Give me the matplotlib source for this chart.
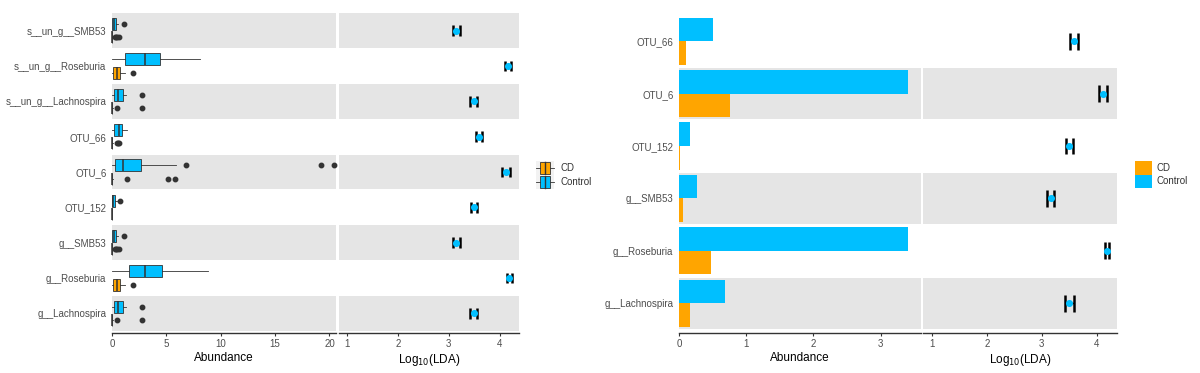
import matplotlib
matplotlib.use('Agg')
import matplotlib.pyplot as plt
from matplotlib.legend_handler import HandlerBase
from matplotlib.patches import Rectangle, Patch
from matplotlib.lines import Line2D
import numpy as np

plt.rcParams['font.family'] = ['Liberation Sans', 'DejaVu Sans']

# -----------------------
# DATA (top to bottom)
# -----------------------
left_taxa = ['s__un_g__SMB53', 's__un_g__Roseburia', 's__un_g__Lachnospira', 'OTU_66',
             'OTU_6', 'OTU_152', 'g__SMB53', 'g__Roseburia', 'g__Lachnospira']

# Control boxes
ctrl_q1 = [0.03, 1.20, 0.20, 0.15, 0.28, 0.03, 0.03, 1.54, 0.20]
ctrl_med = [0.20, 3.05, 0.58, 0.60, 1.04, 0.12, 0.20, 3.07, 0.58]
ctrl_q3 = [0.38, 4.42, 1.05, 0.95, 2.66, 0.28, 0.38, 4.58, 1.05]
ctrl_lo = [0.0, 0.0, 0.0, 0.0, 0.0, 0.0, 0.0, 0.0, 0.0]
ctrl_hi = [0.55, 8.12, 1.30, 1.40, 5.85, 0.42, 0.55, 8.80, 1.30]
ctrl_out = [[1.13], [], [2.73], [], [6.85, 19.2, 20.4], [0.72], [1.13], [], [2.73]]

# CD boxes
cd_q1 = [0.0, 0.05, 0.0, 0.0, 0.0, 0.0, 0.0, 0.05, 0.0]
cd_med = [0.0, 0.45, 0.0, 0.0, 0.0, 0.0, 0.0, 0.45, 0.0]
cd_q3 = [0.02, 0.75, 0.03, 0.03, 0.03, 0.02, 0.02, 0.75, 0.03]
cd_lo = [0.0, 0.0, 0.0, 0.0, 0.0, 0.0, 0.0, 0.0, 0.0]
cd_hi = [0.05, 1.15, 0.05, 0.05, 0.05, 0.03, 0.05, 1.15, 0.05]
cd_out = [[0.3, 0.4, 0.5, 0.6], [1.96], [0.5, 2.78], [0.42, 0.52, 0.62],
          [1.35, 5.19, 5.78], [], [0.3, 0.4, 0.5, 0.6], [1.96], [0.5, 2.78]]

left_lda = [3.15, 4.16, 3.49, 3.59, 4.13, 3.49, 3.15, 4.19, 3.49]
left_err = [0.06, 0.055, 0.065, 0.06, 0.075, 0.06, 0.06, 0.045, 0.07]

right_taxa = ['OTU_66', 'OTU_6', 'OTU_152', 'g__SMB53', 'g__Roseburia', 'g__Lachnospira']
right_ctrl = [0.51, 3.40, 0.16, 0.27, 3.40, 0.68]
right_cd = [0.10, 0.76, 0.01, 0.055, 0.47, 0.16]
right_lda = [3.585, 4.12, 3.50, 3.16, 4.19, 3.50]
right_err = [0.07, 0.076, 0.067, 0.064, 0.043, 0.08]

groups = ['CD', 'Control']

# -----------------------
# STYLE
# -----------------------
cd_col = '#FFA500'
ctrl_col = '#00BFFF'
band_gray = '#E5E5E5'
edge = '#333333'
txt_col = '#4D4D4D'

W, H = 1200, 373
fig = plt.figure(figsize=(12, 3.73), dpi=100)


def px_axes(x0, x1, y0, y1):
    # pixel box (top origin) -> figure fraction
    return fig.add_axes([x0 / W, 1 - y1 / H, (x1 - x0) / W, (y1 - y0) / H])


def style(ax, nrows, xlim, xticks, xlabel, labels=None, outward=1.5):
    ax.set_xlim(*xlim)
    ax.set_ylim(-0.5, nrows - 0.5)
    ax.set_facecolor('none')
    for i in range(0, nrows, 2):
        ax.axhspan(i - 0.49, i + 0.49, color=band_gray, lw=0, zorder=0)
    for s in ['top', 'right', 'left']:
        ax.spines[s].set_visible(False)
    ax.spines['bottom'].set_position(('outward', outward))
    ax.spines['bottom'].set_color(edge)
    ax.spines['bottom'].set_linewidth(1.0)
    ax.set_xticks(xticks)
    ax.tick_params(axis='x', length=2.5, width=0.8, color=edge,
                   labelsize=7, labelcolor=txt_col, pad=1.5)
    if labels is not None:
        ax.set_yticks(np.arange(nrows)[::-1])
        ax.set_yticklabels(labels)
        ax.tick_params(axis='y', length=0, pad=4, labelsize=7, labelcolor=txt_col)
    else:
        ax.set_yticks([])
    ax.set_xlabel(xlabel, fontsize=8.5, labelpad=2.5, color='black')


def box_stats(q1, med, q3, lo, hi, out):
    return [dict(q1=a, med=b, q3=c, whislo=d, whishi=e, fliers=f)
            for a, b, c, d, e, f in zip(q1, med, q3, lo, hi, out)]


def draw_lda(ax, ypos, lda, err, half_h):
    lda = np.array(lda)
    err = np.array(err)
    ax.hlines(ypos, lda - err, lda + err, color='black', lw=1.0, zorder=2)
    ax.vlines(lda - err, ypos - half_h, ypos + half_h, color='black', lw=1.8, zorder=2)
    ax.vlines(lda + err, ypos - half_h, ypos + half_h, color='black', lw=1.8, zorder=2)
    ax.scatter(lda, ypos, s=26, color=ctrl_col, lw=0, zorder=3)


class BoxKey(HandlerBase):
    # small horizontal boxplot glyph on a light grey key
    def create_artists(self, legend, orig, xd, yd, w, h, fontsize, trans):
        fc = orig.get_facecolor()
        x0, y0 = -xd, -yd
        bg = Rectangle((x0, y0), w, h, fc='#F2F2F2', ec='none', transform=trans)
        box = Rectangle((x0 + 0.22 * w, y0 + 0.1 * h), 0.56 * w, 0.8 * h,
                        fc=fc, ec=edge, lw=0.6, transform=trans)
        wl = Line2D([x0, x0 + 0.22 * w], [y0 + h / 2] * 2, color=edge, lw=0.6, transform=trans)
        wr = Line2D([x0 + 0.78 * w, x0 + w], [y0 + h / 2] * 2, color=edge, lw=0.6, transform=trans)
        md = Line2D([x0 + w / 2] * 2, [y0 + 0.1 * h, y0 + 0.9 * h], color=edge, lw=1.0, transform=trans)
        return [bg, box, wl, wr, md]


# -----------------------
# LEFT: boxplots + LDA
# -----------------------
nl = len(left_taxa)
ypos_l = np.arange(nl)[::-1].astype(float)

ax1 = px_axes(112, 336, 13, 331)
style(ax1, nl, (0, 20.6), [0, 5, 10, 15, 20], 'Abundance', left_taxa)
common = dict(orientation='horizontal', patch_artist=True, showcaps=False, widths=0.34,
              manage_ticks=False,
              medianprops=dict(color=edge, lw=1.1),
              whiskerprops=dict(color=edge, lw=0.6),
              flierprops=dict(marker='o', mfc=edge, mec=edge, ms=3.2))
ax1.bxp(box_stats(ctrl_q1, ctrl_med, ctrl_q3, ctrl_lo, ctrl_hi, ctrl_out),
        positions=ypos_l + 0.1875,
        boxprops=dict(facecolor=ctrl_col, edgecolor=edge, lw=0.6), **common)
ax1.bxp(box_stats(cd_q1, cd_med, cd_q3, cd_lo, cd_hi, cd_out),
        positions=ypos_l - 0.1875,
        boxprops=dict(facecolor=cd_col, edgecolor=edge, lw=0.6), **common)
for c in ax1.collections + ax1.lines + ax1.patches:
    c.set_clip_on(False)

ax2 = px_axes(339, 519, 13, 331)
style(ax2, nl, (0.84, 4.38), [1, 2, 3, 4], r'Log$_{10}$(LDA)')
draw_lda(ax2, ypos_l, left_lda, left_err, 0.155)

fig.legend(handles=[Patch(facecolor=cd_col), Patch(facecolor=ctrl_col)], labels=groups,
           handler_map={Patch: BoxKey()}, loc='center left',
           bbox_to_anchor=(536 / W, 1 - 175 / H), frameon=False, fontsize=7,
           handlelength=1.9, handleheight=1.88, labelspacing=0, handletextpad=0.6,
           borderpad=0, borderaxespad=0, labelcolor=edge)

# -----------------------
# RIGHT: bars + LDA
# -----------------------
nr = len(right_taxa)
ypos_r = np.arange(nr)[::-1].astype(float)

ax3 = px_axes(679, 921, 15, 329.5)
style(ax3, nr, (0, 3.6), [0, 1, 2, 3], 'Abundance', right_taxa, outward=2.5)
ax3.barh(ypos_r + 0.225, right_ctrl, height=0.45, color=ctrl_col, lw=0, zorder=2)
ax3.barh(ypos_r - 0.225, right_cd, height=0.45, color=cd_col, lw=0, zorder=2)

ax4 = px_axes(923, 1117, 15, 329.5)
style(ax4, nr, (0.84, 4.37), [1, 2, 3, 4], r'Log$_{10}$(LDA)', outward=2.5)
draw_lda(ax4, ypos_r, right_lda, right_err, 0.16)

fig.legend(handles=[Patch(facecolor=cd_col, lw=0), Patch(facecolor=ctrl_col, lw=0)],
           labels=groups, loc='center left',
           bbox_to_anchor=(1135 / W, 1 - 174.5 / H), frameon=False, fontsize=7,
           handlelength=1.72, handleheight=1.72, labelspacing=0, handletextpad=0.5,
           borderpad=0, borderaxespad=0, labelcolor=edge)

fig.savefig('out.png', dpi=100)
